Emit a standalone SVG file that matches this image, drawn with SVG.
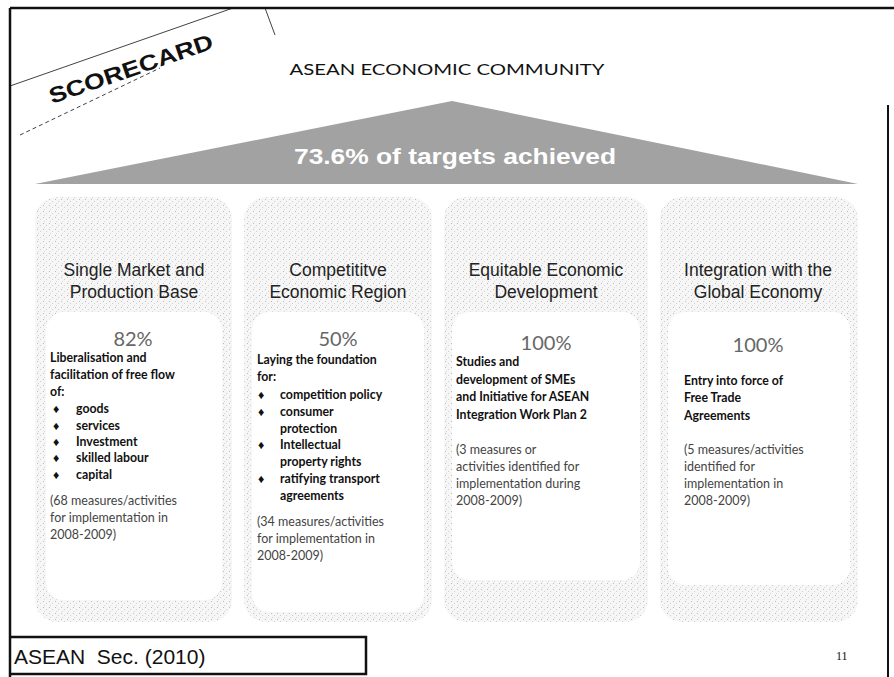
<svg xmlns="http://www.w3.org/2000/svg" width="894" height="677" viewBox="0 0 894 677">
<defs>
<pattern id="stip" width="6" height="6" patternUnits="userSpaceOnUse">
<rect width="6" height="6" fill="#f6f6f6"/>
<rect x="1" y="1" width="1" height="1" fill="#bcbcbc"/>
<rect x="4" y="3" width="1" height="1" fill="#cfcfcf"/>
<rect x="2" y="5" width="1" height="1" fill="#d6d6d6"/>
</pattern>
</defs>
<style>
.head{font-family:"Liberation Sans",Arial,sans-serif;font-size:17.5px;fill:#222;text-anchor:middle}
.pct{font-family:Lato,"Open Sans",sans-serif;font-size:20px;fill:#666;text-anchor:middle}
.body{font-family:Lato,"Open Sans",sans-serif;font-size:12.3px;font-weight:bold;fill:#111}
.note{font-family:Lato,"Open Sans",sans-serif;font-size:12.5px;fill:#444}
.pillar{fill:url(#stip)}
.inner{fill:#fff}
</style>
<rect width="894" height="677" fill="#fff"/>
<g id="frame" stroke="#111" fill="none">
<line x1="10" y1="8" x2="894" y2="8" stroke-width="2.5"/>
<line x1="10" y1="8" x2="10" y2="677" stroke-width="2.5"/>
<line x1="888" y1="105" x2="888" y2="677" stroke-width="2"/>
<line x1="10" y1="86" x2="233" y2="8" stroke-width="0.8"/>
<line x1="20" y1="135" x2="160" y2="68" stroke-width="0.8" stroke-dasharray="4 3"/>
<line x1="265" y1="8" x2="275" y2="35" stroke-width="0.8"/>
</g>
<g id="scorecard">
<text x="0" y="0" transform="translate(52,104) rotate(-19)" font-family="Liberation Sans,Arial,sans-serif" font-size="22" font-weight="bold" fill="#111" textLength="172" lengthAdjust="spacingAndGlyphs">SCORECARD</text>
</g>
<g id="title">
<text x="447" y="75" font-family="Lato,'Open Sans',sans-serif" font-size="16" fill="#111" text-anchor="middle" textLength="315" lengthAdjust="spacingAndGlyphs">ASEAN ECONOMIC COMMUNITY</text>
</g>
<g id="roof">
<path d="M35,184 L452,101 L858,184 Z" fill="#a2a2a2"/>
<text x="455" y="164" font-family="Liberation Sans,Arial,sans-serif" font-size="22" font-weight="bold" fill="#fff" text-anchor="middle" textLength="322" lengthAdjust="spacingAndGlyphs">73.6% of targets achieved</text>
</g>
<g id="pillar1">
<rect class="pillar" x="35" y="197" width="197" height="425" rx="22"/>
<rect class="inner" x="46" y="312" width="176" height="288" rx="18"/>
<text class="head" x="134" y="276">Single Market and</text>
<text class="head" x="134" y="298">Production Base</text>
<text class="pct" x="133" y="346">82%</text>
<text class="body" x="50" y="362">Liberalisation and</text>
<text class="body" x="50" y="379">facilitation of free flow</text>
<text class="body" x="50" y="396">of:</text>
<g class="body">
<text x="53" y="413">♦</text><text x="76" y="413">goods</text>
<text x="53" y="430">♦</text><text x="76" y="430">services</text>
<text x="53" y="446">♦</text><text x="76" y="446">Investment</text>
<text x="53" y="462">♦</text><text x="76" y="462">skilled labour</text>
<text x="53" y="479">♦</text><text x="76" y="479">capital</text>
</g>
<text class="note" x="50" y="505">(68 measures/activities</text>
<text class="note" x="50" y="522">for implementation in</text>
<text class="note" x="50" y="539">2008-2009)</text>
</g>
<g id="pillar2">
<rect class="pillar" x="244" y="197" width="188" height="425" rx="22"/>
<rect class="inner" x="252" y="312" width="172" height="300" rx="18"/>
<text class="head" x="338" y="276">Competititve</text>
<text class="head" x="338" y="298">Economic Region</text>
<text class="pct" x="338" y="346">50%</text>
<text class="body" x="257" y="364">Laying the foundation</text>
<text class="body" x="257" y="381">for:</text>
<g class="body">
<text x="258" y="399">♦</text><text x="280" y="399">competition policy</text>
<text x="258" y="416">♦</text><text x="280" y="416">consumer</text>
<text x="280" y="433">protection</text>
<text x="258" y="449">♦</text><text x="280" y="449">Intellectual</text>
<text x="280" y="466">property rights</text>
<text x="258" y="483">♦</text><text x="280" y="483">ratifying transport</text>
<text x="280" y="500">agreements</text>
</g>
<text class="note" x="257" y="526">(34 measures/activities</text>
<text class="note" x="257" y="543">for implementation in</text>
<text class="note" x="257" y="560">2008-2009)</text>
</g>
<g id="pillar3">
<rect class="pillar" x="444" y="197" width="204" height="425" rx="22"/>
<rect class="inner" x="452" y="312" width="188" height="268" rx="18"/>
<text class="head" x="546" y="276">Equitable Economic</text>
<text class="head" x="546" y="298">Development</text>
<text class="pct" x="546" y="350">100%</text>
<text class="body" x="456" y="366">Studies and</text>
<text class="body" x="456" y="384">development of SMEs</text>
<text class="body" x="456" y="401">and Initiative for ASEAN</text>
<text class="body" x="456" y="419">Integration Work Plan 2</text>
<text class="note" x="456" y="454">(3 measures or</text>
<text class="note" x="456" y="471">activities identified for</text>
<text class="note" x="456" y="488">implementation during</text>
<text class="note" x="456" y="505">2008-2009)</text>
</g>
<g id="pillar4">
<rect class="pillar" x="660" y="197" width="198" height="425" rx="22"/>
<rect class="inner" x="668" y="312" width="182" height="273" rx="18"/>
<text class="head" x="758" y="276">Integration with the</text>
<text class="head" x="758" y="298">Global Economy</text>
<text class="pct" x="758" y="352">100%</text>
<text class="body" x="684" y="385">Entry into force of</text>
<text class="body" x="684" y="402">Free Trade</text>
<text class="body" x="684" y="420">Agreements</text>
<text class="note" x="684" y="454">(5 measures/activities</text>
<text class="note" x="684" y="471">identified for</text>
<text class="note" x="684" y="488">implementation in</text>
<text class="note" x="684" y="505">2008-2009)</text>
</g>
<g id="source">
<path d="M10,637 L366,637 L366,674 L10,674" fill="none" stroke="#111" stroke-width="2.5"/>
<text x="14" y="664" font-family="Liberation Sans,Arial,sans-serif" font-size="21" fill="#111" xml:space="preserve">ASEAN  Sec. (2010)</text>
<text x="836" y="660" font-family="Liberation Serif,serif" font-size="12" fill="#111">11</text>
</g>
</svg>
